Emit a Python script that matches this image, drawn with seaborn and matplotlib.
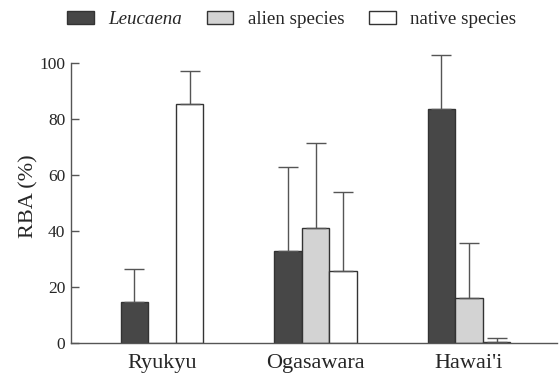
import matplotlib
matplotlib.use("Agg")
import matplotlib.pyplot as plt
import seaborn as sns
import pandas as pd
import numpy as np

regions = ["Ryukyu", "Ogasawara", "Hawai'i"]
groups = ["Leucaena", "alien species", "native species"]
leucaena = [14.8, 33.0, 83.5]
alien = [0.0, 41.2, 16.0]
native = [85.3, 25.8, 0.5]
leucaena_err = [11.6, 29.8, 19.5]
alien_err = [np.nan, 30.1, 19.8]
native_err = [11.8, 28.0, 1.2]
yticks = [0, 20, 40, 60, 80, 100]

colors = {"Leucaena": "#474747", "alien species": "#d3d3d3", "native species": "#ffffff"}

rows = []
for g, vals, errs in zip(groups, [leucaena, alien, native], [leucaena_err, alien_err, native_err]):
    for r, v, e in zip(regions, vals, errs):
        rows.append({"region": r, "group": g, "value": v, "err": e})
df = pd.DataFrame(rows)

sns.set_theme(style="white")
plt.rcParams["font.family"] = ["Liberation Serif", "DejaVu Serif"]

fig = plt.figure(figsize=(5.59, 3.78), dpi=100)
ax = fig.add_axes([0.127, 0.0926, 0.8694, 0.778])

sns.barplot(data=df, x="region", y="value", hue="group", order=regions,
            hue_order=groups, palette=colors, width=0.54, gap=0,
            edgecolor="#333333", linewidth=1.0, errorbar=None, ax=ax, legend=True)

# error bars (upper only) from bar patches
bars = [p for p in ax.patches if p.get_width() > 0][:len(df)]
i = 0
for g in groups:
    for r in regions:
        p = bars[i]
        row = df[(df.group == g) & (df.region == r)].iloc[0]
        i += 1
        if np.isnan(row.err):
            continue
        xc = p.get_x() + p.get_width() / 2
        ax.errorbar([xc], [row.value], yerr=[[0], [row.err]], fmt="none",
                    ecolor="#555555", elinewidth=1.0, capsize=7.5, capthick=1.0, zorder=1)

ax.set_xlim(-0.593, 2.573)
ax.set_ylim(0, 105)
ax.set_yticks(yticks)
ax.set_yticklabels([str(t) for t in yticks], fontsize=12.5)
ax.tick_params(axis="y", direction="in", length=6, width=1, color="#555555", pad=4, left=True)
ax.tick_params(axis="x", length=0, labelsize=16, pad=8)
ax.set_xlabel("")
ax.set_ylabel("RBA (%)", fontsize=16, labelpad=1)
for s in ["top", "right"]:
    ax.spines[s].set_visible(False)
for s in ["left", "bottom"]:
    ax.spines[s].set_color("#555555")
    ax.spines[s].set_linewidth(1.0)
ax.spines["left"].set_bounds(0, 100)

handles, labels = ax.get_legend_handles_labels()
ax.legend_.remove()
leg = fig.legend(handles, labels, loc="upper center", bbox_to_anchor=(0.522, 1.015), ncol=3,
                 frameon=False, fontsize=13.7, handlelength=1.4, handleheight=0.65,
                 columnspacing=1.3, handletextpad=0.75)
for t in leg.get_texts():
    if t.get_text() == "Leucaena":
        t.set_style("italic")

fig.savefig("out.png", dpi=100)
